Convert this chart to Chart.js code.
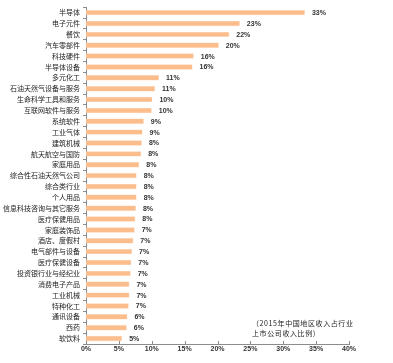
<!DOCTYPE html>
<html>
<head>
<meta charset="utf-8">
<script src="https://cdn.jsdelivr.net/npm/chart.js@4/dist/chart.umd.min.js"></script>
<style>
  html, body { margin: 0; padding: 0; background: #fff; }
  #wrap { position: relative; width: 393px; height: 363px; }
  #note {
    position: absolute; left: 252px; top: 318px;
    font: 7px "Noto Sans CJK SC", sans-serif; color: #222; line-height: 10px;
    letter-spacing: 0.6px;
  }
</style>
</head>
<body>
<div id="wrap">
  <canvas id="chart" width="393" height="363"></canvas>
  <div id="note">（2015年中国地区收入占行业<br>上市公司收入比例）</div>
</div>
<script>
var industries = [
    "半导体", "电子元件", "餐饮", "汽车零部件", "科技硬件", "半导体设备", "多元化工",
    "石油天然气设备与服务", "生命科学工具和服务", "互联网软件与服务", "系统软件", "工业气体",
    "建筑机械", "航天航空与国防", "家庭用品", "综合性石油天然气公司", "综合类行业", "个人用品",
    "信息科技咨询与其它服务", "医疗保健用品", "家庭装饰品", "酒店、度假村", "电气部件与设备",
    "医疗保健设备", "投资银行业与经纪业", "消费电子产品", "工业机械", "特种化工", "通讯设备",
    "西药", "软饮料"
];
// share of revenue (%)
var shares = [
    33.3, 23.4, 21.8, 20.2, 16.4, 16.2, 11.1,
    10.5, 10.1, 10.0, 8.8, 8.6,
    8.5, 8.4, 8.1, 7.7, 7.7, 7.7,
    7.6, 7.5, 7.4, 7.2, 7.0,
    6.9, 6.8, 6.6, 6.6, 6.5, 6.3,
    6.2, 5.5
];
// printed labels next to bars
var shareLabels = [
    "33%", "23%", "22%", "20%", "16%", "16%", "11%",
    "11%", "10%", "10%", "9%", "9%",
    "8%", "8%", "8%", "8%", "8%", "8%",
    "8%", "8%", "7%", "7%", "7%",
    "7%", "7%", "7%", "7%", "7%", "6%",
    "6%", "5%"
];
var xTicks = [0, 5, 10, 15, 20, 25, 30, 35, 40];

var axisColor = "#8c8c8c";

var barLabels = {
    id: "barLabels",
    afterDatasetsDraw: function(chart) {
        var ctx = chart.ctx;
        var meta = chart.getDatasetMeta(0);
        ctx.save();
        ctx.font = "bold 7px 'Liberation Sans', sans-serif";
        ctx.fillStyle = "#333";
        ctx.textBaseline = "middle";
        meta.data.forEach(function(bar, i) {
            ctx.fillText(shareLabels[i], bar.x + 7, bar.y + 0.5);
        });
        // x axis ticks pointing up
        var xs = chart.scales.x;
        var y0 = chart.chartArea.bottom;
        ctx.strokeStyle = axisColor;
        ctx.lineWidth = 1;
        ctx.beginPath();
        xTicks.forEach(function(v) {
            var px = Math.round(xs.getPixelForValue(v)) + 0.5;
            ctx.moveTo(px, y0);
            ctx.lineTo(px, y0 - 3);
        });
        ctx.stroke();
        ctx.restore();
    }
};

var ctx = document.getElementById("chart").getContext("2d");
new Chart(ctx, {
    type: "bar",
    data: {
        labels: industries,
        datasets: [{
            data: shares,
            backgroundColor: "#fbbd8c",
            borderColor: "#fdd8b8",
            borderWidth: 0.5,
            categoryPercentage: 1,
            barPercentage: 0.5
        }]
    },
    options: {
        indexAxis: "y",
        responsive: false,
        animation: false,
        layout: { padding: { left: 0, right: 44, top: 7, bottom: 0 } },
        plugins: { legend: { display: false }, tooltip: { enabled: false } },
        scales: {
            x: {
                min: 0,
                max: 40,
                afterBuildTicks: function(scale) {
                    scale.ticks = xTicks.map(function(v) { return { value: v }; });
                },
                afterFit: function(scale) { scale.height = 19; },
                grid: { display: false, drawTicks: false },
                border: { display: true, color: axisColor, width: 1 },
                ticks: {
                    padding: 1,
                    color: "#333",
                    font: { family: "'Liberation Sans', sans-serif", size: 7, weight: "bold" },
                    callback: function(v) { return v + "%"; }
                }
            },
            y: {
                afterFit: function(scale) { scale.width = 86; },
                grid: { drawOnChartArea: false, color: axisColor, tickLength: 3, offset: true },
                border: { display: true, color: axisColor, width: 1 },
                ticks: {
                    autoSkip: false,
                    padding: 3,
                    color: "#222",
                    font: { family: "'Noto Sans CJK SC', sans-serif", size: 7 }
                }
            }
        }
    },
    plugins: [barLabels]
});
</script>
</body>
</html>
